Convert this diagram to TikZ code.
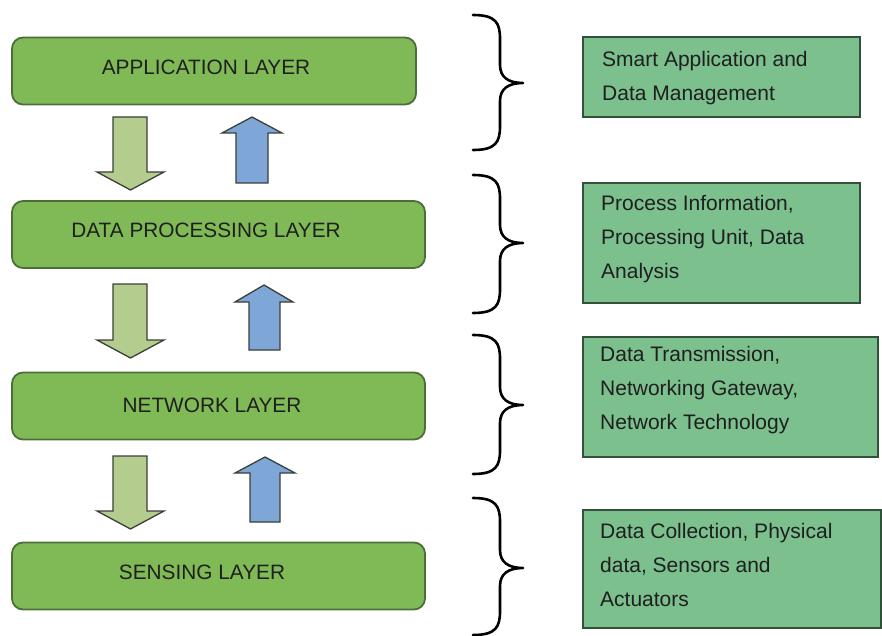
\documentclass[tikz,border=0pt]{standalone}
\usepackage{fontspec}
\setmainfont{Liberation Sans}
\definecolor{layerfill}{HTML}{80BA56}
\definecolor{layeredge}{HTML}{4C6E3A}
\definecolor{infofill}{HTML}{7CC08E}
\definecolor{infoedge}{HTML}{33503A}
\definecolor{downfill}{HTML}{B4CD8E}
\definecolor{upfill}{HTML}{7EA7D8}
\definecolor{arrowedge}{HTML}{3A3F3A}
\begin{document}
\begin{tikzpicture}[x=1pt,y=-1pt,
  layer/.style={draw=layeredge, line width=1.8pt, fill=layerfill,
    rounded corners=11pt, minimum height=67pt, inner sep=0pt},
  layertext/.style={font=\fontsize{20.8}{25}\selectfont, text=black!88, inner sep=0pt},
  infobox/.style={draw=infoedge, line width=1.4pt, fill=infofill, inner sep=0pt},
  infotext/.style={font=\fontsize{21}{34}\selectfont, text=black!88, align=left,
    anchor=west, inner sep=0pt},
  brace/.style={draw=black, line width=2.6pt, line cap=round, line join=round},
  downblock/.style={draw=arrowedge, line width=1.3pt, fill=downfill, line join=miter},
  upblock/.style={draw=arrowedge, line width=1.3pt, fill=upfill, line join=miter}]
\useasboundingbox (0,0) rectangle (882,636);

% layer stack
\node[layer, minimum width=404pt] (app) at (214,71) {};
\node[layer, minimum width=413pt] (proc) at (218.5,234.5) {};
\node[layer, minimum width=413pt] (net) at (218.5,406) {};
\node[layer, minimum width=413pt] (sens) at (218.5,576) {};
\node[layertext] (applbl) at (206,67) {APPLICATION LAYER};
\node[layertext] (proclbl) at (206,230) {DATA PROCESSING LAYER};
\node[layertext] (netlbl) at (212,405) {NETWORK LAYER};
\node[layertext] (senslbl) at (202,572) {SENSING LAYER};

% downward block arrows: top, head base, tip
\foreach \t/\h/\p in {117/172/190, 284/340/358, 456/511/529}
  \draw[downblock] (113,\t) -- (147,\t) -- (147,\h) -- (164,\h) -- (130.5,\p)
    -- (97,\h) -- (113,\h) -- cycle;

% upward block arrows: tip, head base, bottom, shaft left/right, head left/right
\foreach \p/\h/\b/\sl/\sr/\hl/\hr in {117/133/183/236/268/222/282,
    285/302/350/249/280/235/293, 457/473/522/250/280/235/295}
  \draw[upblock] ({(\hl+\hr)/2},\p) -- (\hr,\h) -- (\sr,\h) -- (\sr,\b)
    -- (\sl,\b) -- (\sl,\h) -- (\hl,\h) -- cycle;

% curly braces: top, middle, bottom
\foreach \a/\m/\z in {15/83/150, 175/243/313, 335/405/474, 498/568/635}
  \draw[brace] (473,\a) .. controls (496,\a) and (500,\a+8) .. (500,\a+24)
    -- (500,\m-18) .. controls (500,\m-6) and (508,\m) .. (523,\m)
    .. controls (508,\m) and (500,\m+6) .. (500,\m+18)
    -- (500,\z-24) .. controls (500,\z-8) and (496,\z) .. (473,\z);

% description boxes
\node[infobox, minimum width=277pt, minimum height=80pt] (info1) at (721.5,77) {};
\node[infobox, minimum width=277pt, minimum height=120pt] (info2) at (721.5,243) {};
\node[infobox, minimum width=295pt, minimum height=120pt] (info3) at (730.5,397) {};
\node[infobox, minimum width=298pt, minimum height=118pt] (info4) at (732,569) {};

\node[infotext] (info1txt) at (602,78) {Smart Application and\\Data Management};
\node[infotext] (info2txt) at (601,239) {Process Information,\\Processing Unit, Data\\Analysis};
\node[infotext] (info3txt) at (600,390) {Data Transmission,\\Networking Gateway,\\Network Technology};
\node[infotext] (info4txt) at (600,565) {Data Collection, Physical\\data, Sensors and\\Actuators};
\end{tikzpicture}
\end{document}
